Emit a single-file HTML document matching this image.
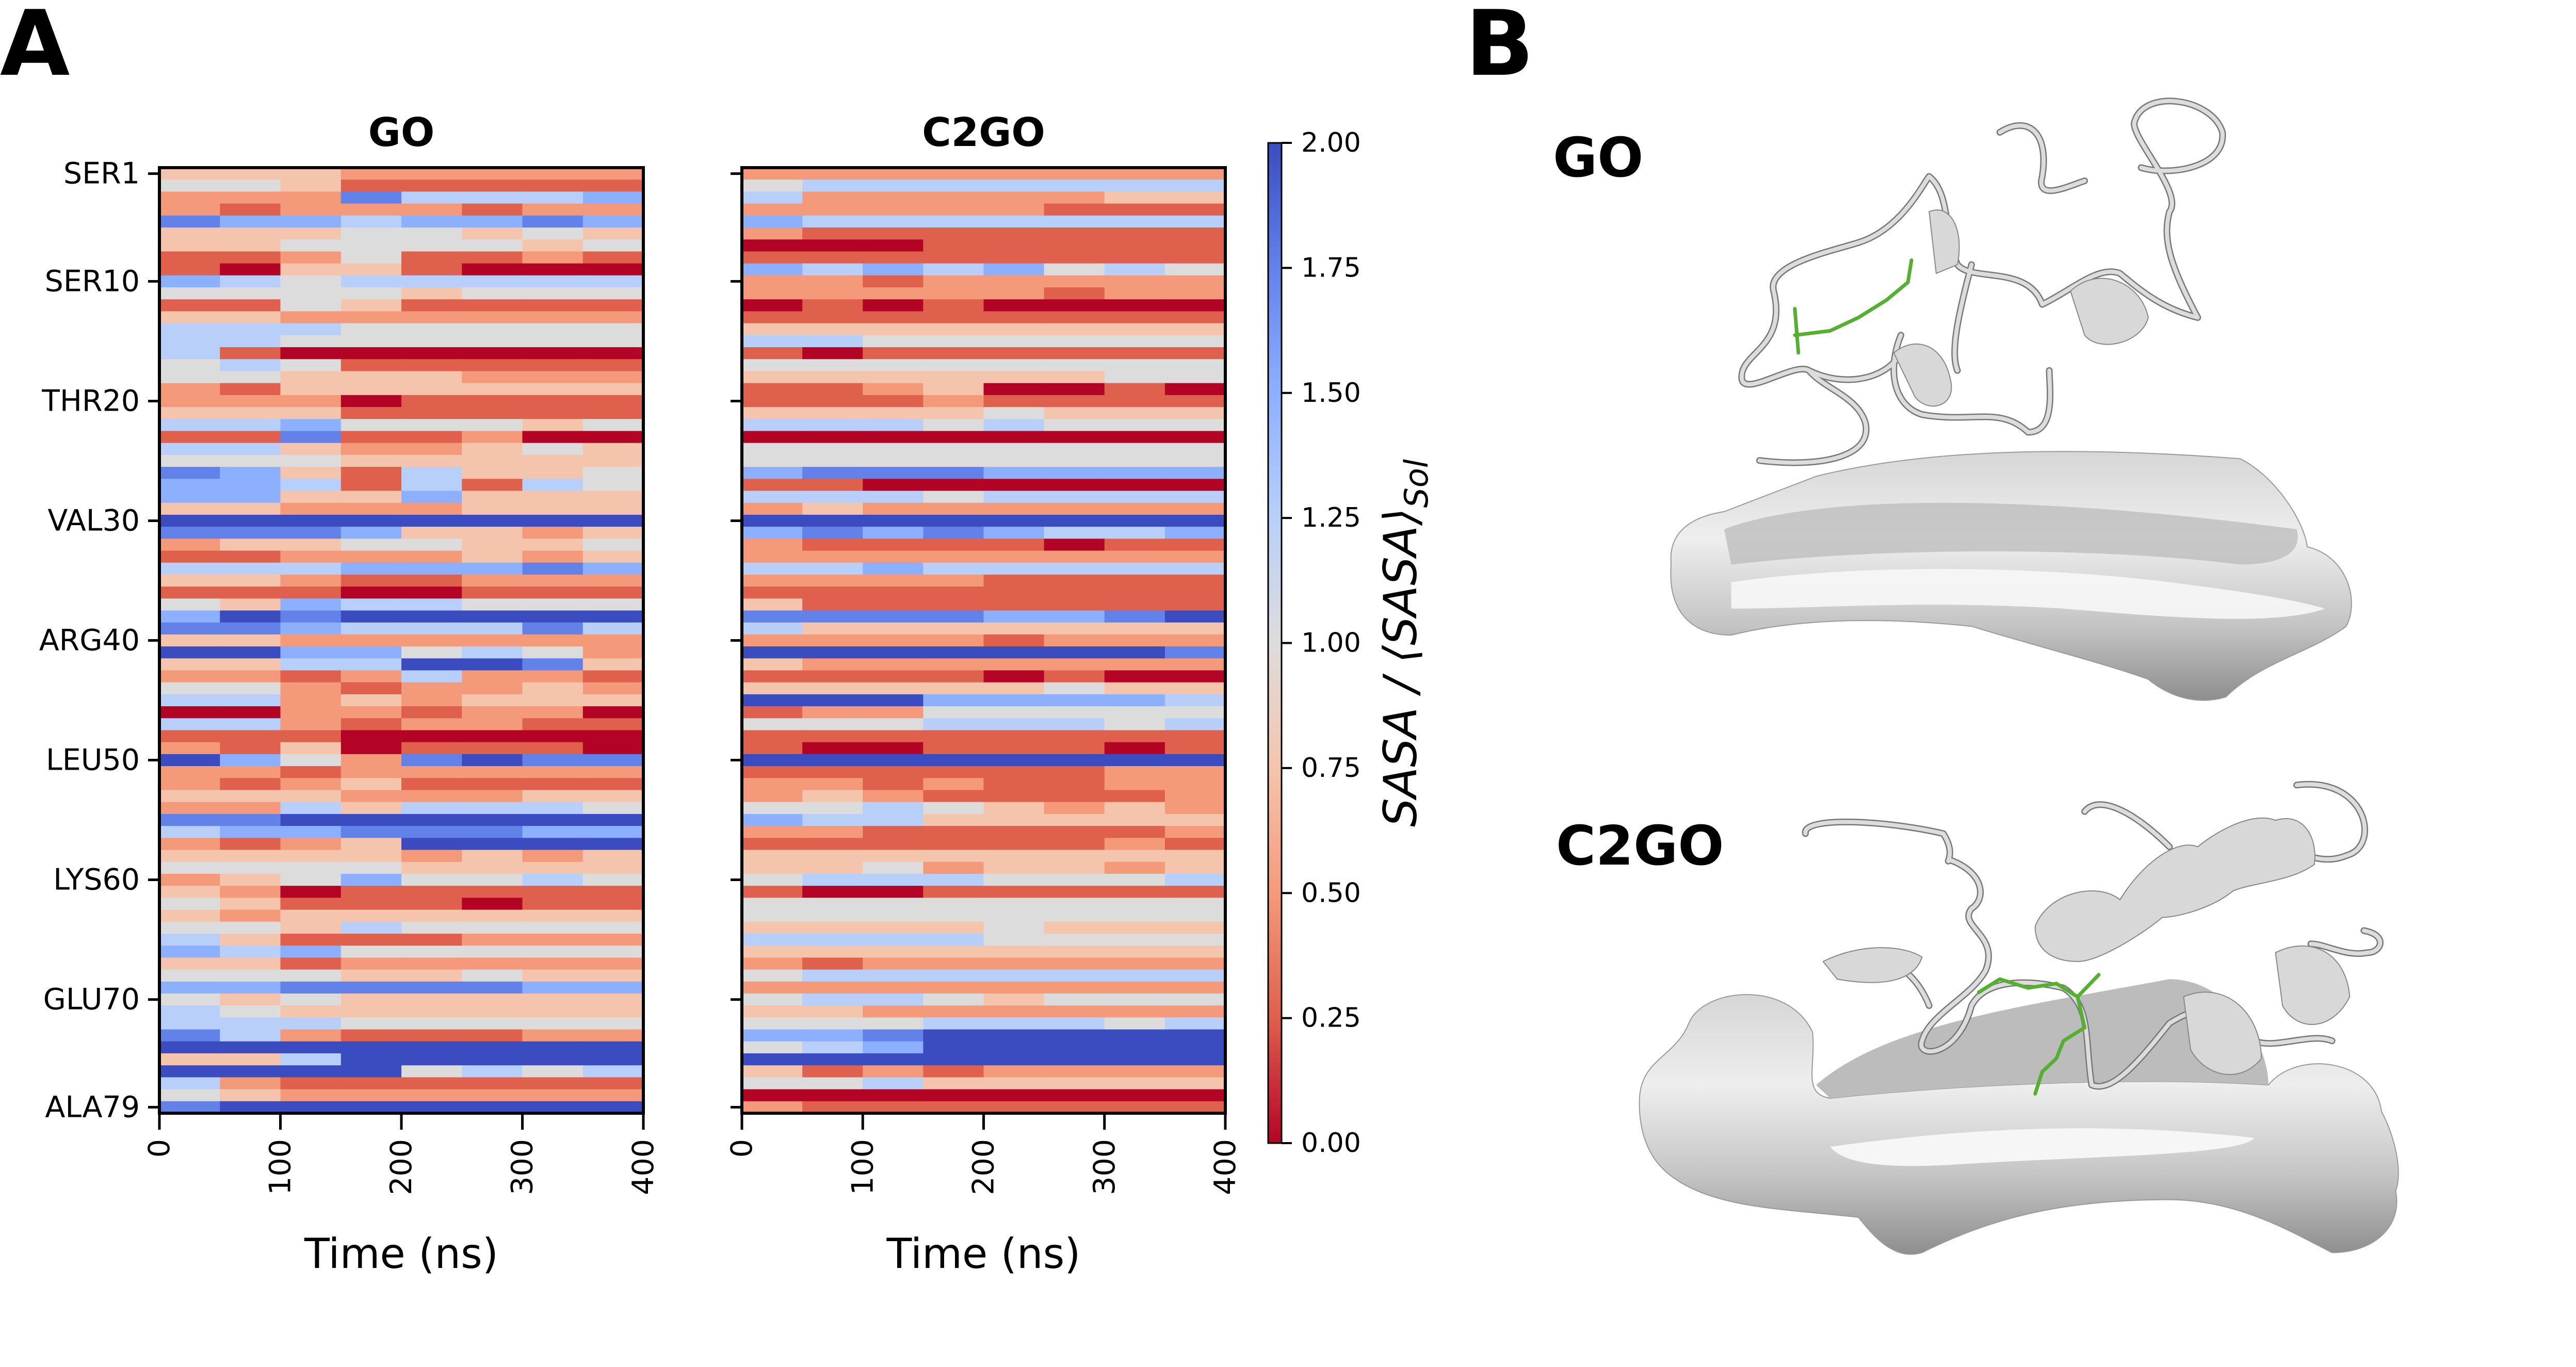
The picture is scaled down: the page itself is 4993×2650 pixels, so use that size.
<!DOCTYPE html>
<html><head><meta charset="utf-8"><title>SASA heatmaps</title>
<style>
html,body{margin:0;padding:0;background:#fff;}
svg{display:block;font-family:"DejaVu Sans","Liberation Sans",sans-serif;}
</style></head>
<body>
<svg id="fig" width="4993" height="2650" viewBox="0 0 4993 2650" xmlns="http://www.w3.org/2000/svg">
<defs>
  <linearGradient id="cbgrad" x1="0" y1="1" x2="0" y2="0">
    <stop offset="0" stop-color="rgb(180,4,38)"/><stop offset="0.125" stop-color="rgb(222,96,77)"/>
    <stop offset="0.25" stop-color="rgb(244,154,123)"/><stop offset="0.375" stop-color="rgb(245,196,173)"/>
    <stop offset="0.5" stop-color="rgb(221,220,220)"/><stop offset="0.625" stop-color="rgb(184,208,249)"/>
    <stop offset="0.75" stop-color="rgb(141,176,254)"/><stop offset="0.875" stop-color="rgb(98,130,234)"/>
    <stop offset="1" stop-color="rgb(59,76,192)"/>
  </linearGradient>
  <linearGradient id="surf" x1="0" y1="0" x2="0" y2="1">
    <stop offset="0" stop-color="#d6d6d6"/><stop offset="0.35" stop-color="#eeeeee"/>
    <stop offset="0.7" stop-color="#c4c4c4"/><stop offset="1" stop-color="#8e8e8e"/>
  </linearGradient>
</defs>
<text x="0" y="145" font-size="175" font-weight="900">A</text>
<text x="2840" y="145" font-size="175" font-weight="900">B</text>
<g id="heat"></g>
<g id="panelB">
  <text x="3010" y="342" font-size="105" font-weight="bold">GO</text>
  <text x="3016" y="1676" font-size="105" font-weight="bold">C2GO</text>
  <g transform="translate(2835,0) scale(1.37,1.71)">
    <g>
      <path d="M295,640 C290,600 330,585 370,580 L500,540 C650,510 850,505 1100,520 C1150,540 1190,590 1195,620 C1250,630 1270,680 1250,710 C1200,740 1130,750 1080,790 C1040,800 1000,790 970,770 C900,750 800,730 720,710 C600,700 480,700 380,720 C320,720 290,690 295,640 Z" fill="url(#surf)" stroke="#9a9a9a" stroke-width="2" vector-effect="non-scaling-stroke"/>
      <path d="M370,600 C500,560 800,560 1180,600 C1190,630 1150,640 1100,640 C900,620 600,620 380,640 Z" fill="#b8b8b8" opacity="0.7"/>
      <path d="M380,660 C550,640 800,640 1000,660 C1100,670 1180,680 1220,690 C1150,710 1000,700 850,690 C650,680 500,690 380,690 Z" fill="#f7f7f7" opacity="0.9"/>
    </g>
    <g fill="none" stroke-linecap="round" stroke-linejoin="round">
      <path d="M420,522 C500,530 580,520 570,480 C560,450 510,440 490,420 C470,410 400,450 395,430 C390,400 460,395 440,330 C430,300 520,285 560,275 C620,260 650,210 660,200 C690,220 680,260 700,300 C720,320 800,300 820,345 C860,330 900,300 930,310 C960,330 990,350 1040,360 C1000,300 990,270 1000,240 C1020,220 950,160 950,140 C960,100 1060,110 1075,150 C1080,190 1000,200 960,190 M760,150 C800,130 830,150 820,200 C810,230 860,210 880,205 M720,300 C700,360 690,400 700,420 M620,380 C600,420 610,460 650,470 C720,480 760,460 800,490 C840,490 830,440 830,420 M490,420 C540,440 600,430 620,400" stroke="#777" stroke-width="13" vector-effect="non-scaling-stroke"/>
      <path d="M420,522 C500,530 580,520 570,480 C560,450 510,440 490,420 C470,410 400,450 395,430 C390,400 460,395 440,330 C430,300 520,285 560,275 C620,260 650,210 660,200 C690,220 680,260 700,300 C720,320 800,300 820,345 C860,330 900,300 930,310 C960,330 990,350 1040,360 C1000,300 990,270 1000,240 C1020,220 950,160 950,140 C960,100 1060,110 1075,150 C1080,190 1000,200 960,190 M760,150 C800,130 830,150 820,200 C810,230 860,210 880,205 M720,300 C700,360 690,400 700,420 M620,380 C600,420 610,460 650,470 C720,480 760,460 800,490 C840,490 830,440 830,420 M490,420 C540,440 600,430 620,400" stroke="#dcdcdc" stroke-width="8" vector-effect="non-scaling-stroke"/>
      <path d="M610,400 C640,380 680,390 690,430 C700,460 660,470 640,450 Z M860,330 C900,300 960,320 970,360 C960,390 900,400 880,380 Z M660,240 C690,230 710,260 700,300 L670,310 Z" fill="#d8d8d8" stroke="#888" stroke-width="2" vector-effect="non-scaling-stroke"/>
      <path d="M470,350 L475,400 M470,380 L520,375 L560,360 L600,340 L630,320 L635,295" stroke="#55b030" stroke-width="7" vector-effect="non-scaling-stroke"/>
    </g>
    <g>
      <path d="M250,1250 C250,1200 300,1200 320,1160 C340,1120 460,1110 495,1170 C500,1210 480,1240 520,1245 C700,1230 950,1220 1140,1230 C1180,1190 1290,1200 1300,1260 C1320,1290 1330,1330 1320,1350 C1330,1390 1290,1420 1230,1420 C1180,1400 1100,1360 1000,1360 C850,1360 750,1380 650,1420 C610,1430 580,1400 560,1380 C450,1370 350,1370 290,1330 C260,1310 250,1280 250,1250 Z" fill="url(#surf)" stroke="#9a9a9a" stroke-width="2" vector-effect="non-scaling-stroke"/>
      <path d="M500,1230 C600,1160 800,1140 1000,1110 C1080,1110 1140,1180 1140,1230 C950,1220 700,1230 520,1245 Z" fill="#bcbcbc"/>
      <path d="M520,1300 C700,1280 900,1270 1120,1290 C1100,1310 900,1310 700,1320 C600,1325 540,1320 520,1300 Z" fill="#f6f6f6"/>
    </g>
    <g fill="none" stroke-linecap="round" stroke-linejoin="round">
      <path d="M485,945 C480,925 600,930 680,945 C700,970 680,980 690,975 C740,990 740,1020 720,1030 C700,1050 760,1060 740,1100 C720,1130 660,1150 650,1180 C640,1200 700,1200 720,1140 C740,1110 800,1110 850,1120 C890,1140 880,1180 890,1230 C920,1240 960,1200 1000,1160 C1060,1130 1100,1140 1120,1180 C1150,1190 1200,1170 1230,1180 M880,920 C900,900 950,920 1000,960 M1180,890 C1280,880 1300,960 1250,970 C1220,980 1190,970 1170,960 M1275,1055 C1310,1060 1300,1080 1280,1080 C1250,1085 1220,1070 1200,1070 M560,1090 C600,1080 640,1100 660,1140" stroke="#777" stroke-width="13" vector-effect="non-scaling-stroke"/>
      <path d="M485,945 C480,925 600,930 680,945 C700,970 680,980 690,975 C740,990 740,1020 720,1030 C700,1050 760,1060 740,1100 C720,1130 660,1150 650,1180 C640,1200 700,1200 720,1140 C740,1110 800,1110 850,1120 C890,1140 880,1180 890,1230 C920,1240 960,1200 1000,1160 C1060,1130 1100,1140 1120,1180 C1150,1190 1200,1170 1230,1180 M880,920 C900,900 950,920 1000,960 M1180,890 C1280,880 1300,960 1250,970 C1220,980 1190,970 1170,960 M1275,1055 C1310,1060 1300,1080 1280,1080 C1250,1085 1220,1070 1200,1070 M560,1090 C600,1080 640,1100 660,1140" stroke="#dcdcdc" stroke-width="8" vector-effect="non-scaling-stroke"/>
      <path d="M810,1050 C830,1010 900,1000 930,1020 C960,980 1010,950 1040,960 C1070,940 1120,920 1150,930 C1190,920 1210,950 1205,980 C1170,1000 1120,1000 1090,1010 C1060,1030 1010,1040 990,1040 C960,1060 900,1090 870,1090 C840,1090 810,1080 810,1050 Z" fill="#d8d8d8" stroke="#888" stroke-width="2" vector-effect="non-scaling-stroke"/>
      <path d="M510,1090 C560,1070 620,1070 650,1085 C640,1110 600,1120 530,1110 Z M1020,1130 C1080,1110 1130,1150 1130,1200 C1100,1230 1050,1220 1030,1190 Z M1150,1080 C1200,1060 1250,1080 1255,1130 C1230,1170 1180,1170 1160,1140 Z" fill="#d8d8d8" stroke="#888" stroke-width="2" vector-effect="non-scaling-stroke"/>
      <path d="M730,1125 L760,1110 L800,1120 L840,1115 L870,1130 L880,1165 L850,1180 L840,1200 L820,1215 L810,1240 M870,1130 L900,1105" stroke="#55b030" stroke-width="7" vector-effect="non-scaling-stroke"/>
    </g>
  </g>
</g>
</svg>
<script>
// ---- chart data ----
const timeBins = [0, 50, 100, 150, 200, 250, 300, 350, 400]; // ns bin edges
const valueStep = 0.25; // each digit code d -> SASA ratio d*0.25
const goRows = [
"33322222","44311111","22275556","21222122","76656676","33344343","33444434","11241121","10331000","65455555",
"44443444","11431111","33222222","55544444","55444444","51000000","45411111","44333222","21333333","22201111",
"33311111","55644434","11711200","55322343","44433333","76315334","66515154","66336333","33222333","88888888",
"77763323","23344334","11222323","55566676","33211222","11100111","43655444","68788888","77655575","33222222",
"88664542","33558873","22125221","44212232","55232333","00221220","55212211","11100000","21301110","86427877",
"22122222","21231111","33322233","22535554","77888888","56677766","21238888","33332323","44443333","23464454",
"32011111","43111011","32333333","44354444","53111222","65644444","33122222","44433433","66777766","43433333",
"54333333","55544444","75211122","88888888","33588888","88884545","52111111","43222222","78888888"];
const c2goRows = [
"22222222","45555555","52222233","22222111","65555555","21111111","00011111","11111111","65656454","22122222",
"22222122","01010000","11111111","33333333","55444444","10111111","44444444","33333344","11230010","11121111",
"33334333","55545444","00000000","44444444","44444444","67776666","11000000","55545555","23222222","88888888",
"67676556","21111011","22222222","55655555","22221111","11111111","31111111","77776678","53333333","22221222",
"88888887","32222222","11110100","33333433","88866665","12244444","44455545","11111111","10011101","88888888",
"11111122","22121122","23211112","44543232","65533333","22111112","11111121","33333333","33423323","45554445",
"10011111","44444444","44444444","33334333","55554444","33333333","21222222","45555555","22222222","45543444",
"33222222","44455545","66788888","45688888","88888888","31212222","44533333","00000000","21111111"];
const residueTicks = [1, 10, 20, 30, 40, 50, 60, 70, 79];
const residueLabels = ["SER1","SER10","THR20","VAL30","ARG40","LEU50","LYS60","GLU70","ALA79"];
const timeTicks = [0, 100, 200, 300, 400];
const colorbarTicks = [0.00, 0.25, 0.50, 0.75, 1.00, 1.25, 1.50, 1.75, 2.00];

// ---- layout ----
const NS = "http://www.w3.org/2000/svg";
const plotTop = 325, plotBottom = 2158, nRows = 79;
const rowH = (plotBottom - plotTop) / nRows;
const panels = [
  {name:"go", title:"GO", x0:309, x1:1247, rows:goRows, labels:true},
  {name:"c2go", title:"C2GO", x0:1438, x1:2375, rows:c2goRows, labels:false}
];
const vmin = 0, vmax = 2;
const cmap = [[180,4,38],[222,96,77],[244,154,123],[245,196,173],[221,220,220],[184,208,249],[141,176,254],[98,130,234],[59,76,192]];
function color(v){
  let t = Math.max(0, Math.min(1, (v - vmin)/(vmax - vmin))) * (cmap.length - 1);
  const i = Math.min(cmap.length - 2, Math.floor(t)), f = t - i;
  const c = cmap[i].map((a,k)=>Math.round(a + (cmap[i+1][k]-a)*f));
  return "rgb(" + c.join(",") + ")";
}
function mk(tag, attrs, parent){
  const e = document.createElementNS(NS, tag);
  for (const k in attrs) e.setAttribute(k, attrs[k]);
  parent.appendChild(e);
  return e;
}
const heat = document.getElementById("heat");

panels.forEach(p => {
  const xScale = t => p.x0 + (t - timeBins[0]) / (timeBins[timeBins.length-1] - timeBins[0]) * (p.x1 - p.x0);
  const yScale = i => plotTop + i * rowH;
  const g = mk("g", {}, heat);
  
  
  p.rows.forEach((row, r) => {
    for (let b = 0; b < timeBins.length - 1; b++) {
      const v = parseInt(row[b], 10) * valueStep;
      const xa = xScale(timeBins[b]), xb = xScale(timeBins[b+1]);
      const cell = mk("rect", {x: xa.toFixed(2), y: yScale(r).toFixed(2), width: (xb - xa + 0.6).toFixed(2), height: (rowH + 0.6).toFixed(2), fill: color(v)}, g);
      
      
    }
  });
  const frame = mk("rect", {x: p.x0, y: plotTop, width: p.x1 - p.x0, height: plotBottom - plotTop, fill: "none", stroke: "#000", "stroke-width": 6}, heat);
  
  
  const title = mk("text", {x: (p.x0 + p.x1)/2, y: 283, "font-size": 77, "font-weight": "bold", "text-anchor": "middle"}, heat);
  title.textContent = p.title;
  
  
  residueTicks.forEach((res, k) => {
    const y = yScale(res - 1) + rowH/2;
    const tk = mk("line", {x1: p.x0 - 22, x2: p.x0, y1: y, y2: y, stroke: "#000", "stroke-width": 5}, heat);
    
    
    if (p.labels) {
      const lb = mk("text", {x: p.x0 - 38, y: y, "font-size": 57, "text-anchor": "end", "dominant-baseline": "central"}, heat);
      lb.textContent = residueLabels[k];
      
      
    }
  });
  timeTicks.forEach(t => {
    const x = xScale(t);
    const tk = mk("line", {x1: x, x2: x, y1: plotBottom, y2: plotBottom + 32, stroke: "#000", "stroke-width": 5}, heat);
    
    
    const lb = mk("text", {x: 0, y: 0, "font-size": 57, "text-anchor": "end", "dominant-baseline": "central", transform: "translate(" + x + "," + (plotBottom + 50) + ") rotate(-90)"}, heat);
    lb.textContent = String(t);
    
    
  });
  const xt = mk("text", {x: (p.x0 + p.x1)/2, y: 2458, "font-size": 80, "text-anchor": "middle"}, heat);
  xt.textContent = "Time (ns)";
  
  
});

// ---- colorbar ----
const cbX0 = 2458, cbX1 = 2484, cbTop = 277, cbBottom = 2216;
const cbScale = v => cbBottom - (v - vmin) / (vmax - vmin) * (cbBottom - cbTop);
const cb = mk("rect", {x: cbX0, y: cbTop, width: cbX1 - cbX0, height: cbBottom - cbTop, fill: "url(#cbgrad)", stroke: "#000", "stroke-width": 3}, heat);


colorbarTicks.forEach(v => {
  const y = cbScale(v);
  const tk = mk("line", {x1: cbX1, x2: cbX1 + 20, y1: y, y2: y, stroke: "#000", "stroke-width": 4}, heat);
  
  
  const lb = mk("text", {x: cbX1 + 38, y: y, "font-size": 52, "dominant-baseline": "central"}, heat);
  lb.textContent = v.toFixed(2);
  
  
});
const cbt = mk("text", {x: 0, y: 0, "font-size": 88, "font-style": "italic", "text-anchor": "middle", transform: "translate(2745," + ((cbTop + cbBottom)/2) + ") rotate(-90)"}, heat);


cbt.textContent = "SASA / \u27E8SASA\u27E9";
const sub = mk("tspan", {"font-size": 62, dy: 22}, cbt);
sub.textContent = "Sol";
</script>
</body></html>
